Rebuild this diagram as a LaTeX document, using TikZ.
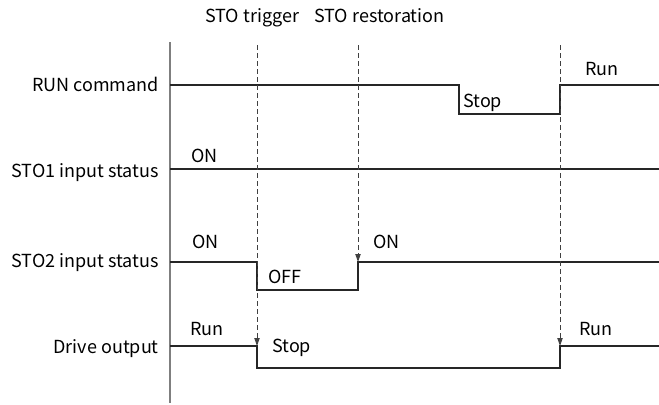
\documentclass[tikz,border=0pt]{standalone}
\usepackage{fontspec}
\setmainfont{Noto Sans CJK SC}
\usepackage{tikz}
\usepackage{xcolor}
\usetikzlibrary{arrows.meta,positioning,calc}
\definecolor{axisgray} {HTML}{7F7F7F}
\definecolor{wave}     {HTML}{262626}
\definecolor{guide}    {HTML}{404040}

\begin{document}
\begin{tikzpicture}[x=0.75pt,y=-0.75pt,
    sig/.style={draw=wave,line width=0.8pt},
    guideline/.style={draw=guide,line width=0.7pt,dash pattern=on 3.5pt off 2.5pt,
                      -{Triangle[length=6pt,width=4pt]}},
    rowlabel/.style={anchor=base east,inner sep=0pt,font=\fontsize{13.5}{16}\selectfont},
    statelabel/.style={anchor=base west,inner sep=0pt,font=\fontsize{13.5}{16}\selectfont}]
  \useasboundingbox (0,0) rectangle (659,404);

  % time axis
  \coordinate (axtop) at (170,42);
  \coordinate (axbot) at (170,403);
  \draw[axisgray,line width=1.5pt] (axtop) -- (axbot);

  % row labels
  \node[rowlabel] (runlbl)  at (159,91)  {RUN command};
  \node[rowlabel] (sto1lbl) at (159,177) {STO1 input status};
  \node[rowlabel] (sto2lbl) at (159,267) {STO2 input status};
  \node[rowlabel] (drvlbl)  at (159,353) {Drive output};

  % event labels
  \node[statelabel] (trig) at (205,22) {STO trigger};
  \node[statelabel] (rest) at (314,22) {STO restoration};

  % RUN command
  \coordinate (r0) at (170,85);  \coordinate (r1) at (459,85);
  \coordinate (r2) at (459,114); \coordinate (r3) at (560,114);
  \coordinate (r4) at (560,85);  \coordinate (r5) at (659,85);
  \draw[sig] (r0) -- (r1) -- (r2) -- (r3) -- (r4) -- (r5);
  \node[statelabel] (runstop) at (463,107) {Stop};
  \node[statelabel] (runrun)  at (585,75)  {Run};

  % STO1
  \coordinate (a0) at (170,169); \coordinate (a1) at (659,169);
  \draw[sig] (a0) -- (a1);
  \node[statelabel] (sto1on) at (191,162) {ON};

  % STO2
  \coordinate (b0) at (170,262); \coordinate (b1) at (257,262);
  \coordinate (b2) at (257,290); \coordinate (b3) at (358,290);
  \coordinate (b4) at (358,262); \coordinate (b5) at (659,262);
  \draw[sig] (b0) -- (b1) -- (b2) -- (b3) -- (b4) -- (b5);
  \node[statelabel] (sto2on)  at (192,248) {ON};
  \node[statelabel] (sto2off) at (268,283) {OFF};
  \node[statelabel] (sto2on2) at (373,248) {ON};

  % drive output
  \coordinate (d0) at (170,346); \coordinate (d1) at (257,346);
  \coordinate (d2) at (257,368); \coordinate (d3) at (560,368);
  \coordinate (d4) at (560,346); \coordinate (d5) at (659,346);
  \draw[sig] (d0) -- (d1) -- (d2) -- (d3) -- (d4) -- (d5);
  \node[statelabel] (drvrun)  at (190,335) {Run};
  \node[statelabel] (drvstop) at (272,352) {Stop};
  \node[statelabel] (drvrun2) at (579,335) {Run};

  % event guides
  \coordinate (g1) at (257,45);
  \coordinate (g2) at (358,45);
  \coordinate (g3) at (560,45);
  \draw[guideline] (g1) -- (d1);
  \draw[guideline] (g2) -- (b4);
  \draw[guideline] (g3) -- (d4);
\end{tikzpicture}
\end{document}
